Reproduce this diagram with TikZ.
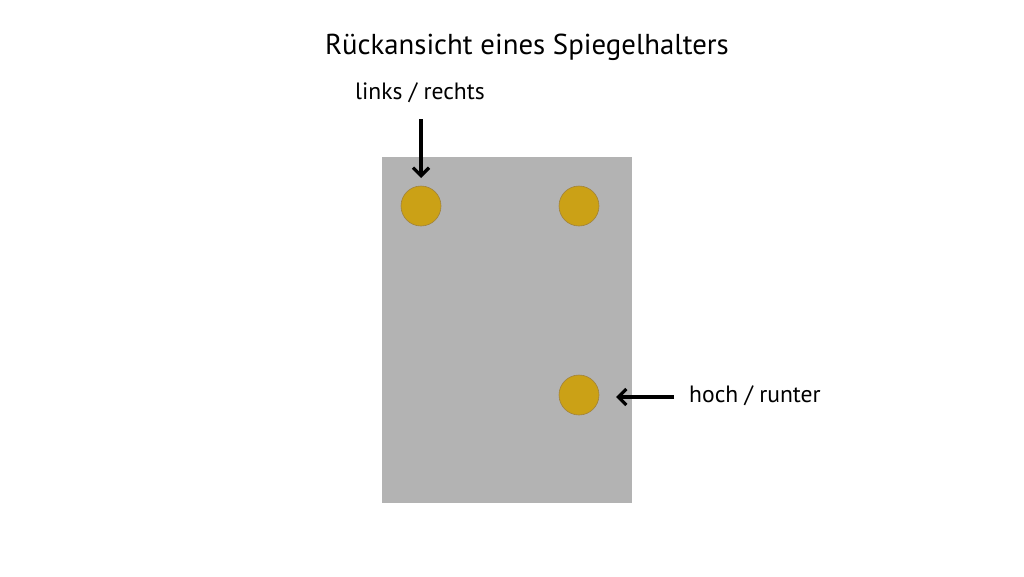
\documentclass[tikz,border=0pt]{standalone}
\usepackage{fontspec}
\setmainfont{PT Sans}
\usetikzlibrary{arrows.meta}
\definecolor{plate}{RGB}{179,179,179}
\definecolor{knob}{RGB}{203,161,22}
\definecolor{knobedge}{RGB}{160,130,60}
\tikzset{
  knobstyle/.style={circle, fill=knob, draw=knobedge, line width=0.6pt, minimum size=40pt, inner sep=0pt},
  lbl/.style={inner sep=0pt, font=\fontsize{23.6}{27}\selectfont},
  pointer/.style={line width=3.2pt, -{Straight Barb[length=8pt, width=16pt, line width=3.2pt]}}
}
\begin{document}
\begin{tikzpicture}[x=1pt, y=-1pt]
\useasboundingbox (0,0) rectangle (1024,576);
\fill[plate] (382,157) rectangle (632,503);
\node[knobstyle] (k1) at (421,206) {};
\node[knobstyle] (k2) at (579,206) {};
\node[knobstyle] (k3) at (579,395) {};
\node[inner sep=0pt, font=\fontsize{28.8}{32}\selectfont] (title) at (527,47) {Rückansicht eines Spiegelhalters};
\node[lbl, anchor=west] (lr) at (355,93) {links / rechts};
\node[lbl, anchor=west] (hr) at (689,396) {hoch / runter};
\coordinate (a1s) at (421,119);
\coordinate (a1e) at (421,178);
\draw[pointer] (a1s) -- (a1e);
\coordinate (a2s) at (674,397);
\coordinate (a2e) at (616,397);
\draw[pointer] (a2s) -- (a2e);
\end{tikzpicture}
\end{document}
